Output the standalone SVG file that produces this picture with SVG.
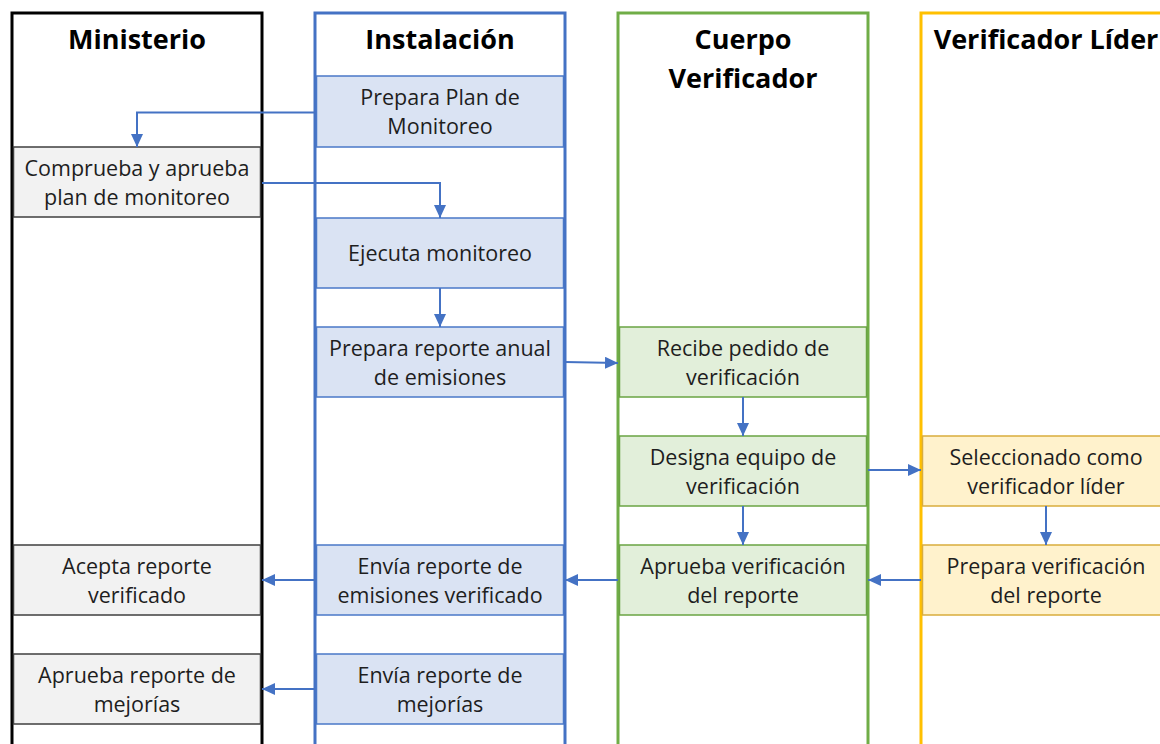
<svg xmlns="http://www.w3.org/2000/svg" width="1160" height="744" viewBox="0 0 1160 744">
<style>
.lane{fill:#fff;stroke-width:3}
.hd{font-family:"Open Sans","Liberation Sans",sans-serif;font-weight:bold;font-size:27px;fill:#000;text-anchor:middle}
.tx{font-family:"Open Sans","Liberation Sans",sans-serif;font-size:21.5px;fill:#1e1e1e;text-anchor:middle}
.gm{fill:#f2f2f2;stroke:#3f3f3f;stroke-width:1.5}
.bl{fill:#dae3f3;stroke:#4a78c8;stroke-width:1.5}
.gr{fill:#e2efda;stroke:#6aa443;stroke-width:1.5}
.og{fill:#fff2cc;stroke:#d9ad3c;stroke-width:1.5}
.cn{fill:none;stroke:#4472c4;stroke-width:2}
</style>
<defs>
<marker id="ah" markerUnits="userSpaceOnUse" markerWidth="13" markerHeight="12" refX="13" refY="6" orient="auto">
<path d="M0,0 L13,6 L0,12 z" fill="#4472c4"/>
</marker>
</defs>
<rect width="1160" height="744" fill="#fff"/>
<g id="lane-ministerio">
<rect class="lane" x="12" y="13" width="250" height="760" stroke="#000"/>
<text class="hd" x="137" y="49">Ministerio</text>
</g>
<g id="lane-instalacion">
<rect class="lane" x="315" y="13" width="250" height="760" stroke="#4472c4"/>
<text class="hd" x="440" y="49">Instalación</text>
</g>
<g id="lane-cuerpo">
<rect class="lane" x="618" y="13" width="250" height="760" stroke="#70ad47"/>
<text class="hd" x="743" y="49">Cuerpo</text>
<text class="hd" x="743" y="88">Verificador</text>
</g>
<g id="lane-lider">
<rect class="lane" x="921" y="13" width="250" height="760" stroke="#ffc000"/>
<text class="hd" x="1046" y="49">Verificador Líder</text>
</g>

<g id="n-comprueba">
<rect class="gm" x="13.5" y="147" width="247" height="70"/>
<text class="tx" x="137" y="176">Comprueba y aprueba</text>
<text class="tx" x="137" y="205">plan de monitoreo</text>
</g>
<g id="n-acepta">
<rect class="gm" x="13.5" y="545" width="247" height="70"/>
<text class="tx" x="137" y="574">Acepta reporte</text>
<text class="tx" x="137" y="603">verificado</text>
</g>
<g id="n-aprueba-mejorias">
<rect class="gm" x="13.5" y="654" width="247" height="70"/>
<text class="tx" x="137" y="683">Aprueba reporte de</text>
<text class="tx" x="137" y="712">mejorías</text>
</g>

<g id="n-prepara-plan">
<rect class="bl" x="316.5" y="76" width="247" height="71"/>
<text class="tx" x="440" y="105">Prepara Plan de</text>
<text class="tx" x="440" y="134">Monitoreo</text>
</g>
<g id="n-ejecuta">
<rect class="bl" x="316.5" y="218" width="247" height="70"/>
<text class="tx" x="440" y="261">Ejecuta monitoreo</text>
</g>
<g id="n-prepara-reporte">
<rect class="bl" x="316.5" y="327" width="247" height="70"/>
<text class="tx" x="440" y="356">Prepara reporte anual</text>
<text class="tx" x="440" y="385">de emisiones</text>
</g>
<g id="n-envia-verificado">
<rect class="bl" x="316.5" y="545" width="247" height="70"/>
<text class="tx" x="440" y="574">Envía reporte de</text>
<text class="tx" x="440" y="603">emisiones verificado</text>
</g>
<g id="n-envia-mejorias">
<rect class="bl" x="316.5" y="654" width="247" height="70"/>
<text class="tx" x="440" y="683">Envía reporte de</text>
<text class="tx" x="440" y="712">mejorías</text>
</g>

<g id="n-recibe">
<rect class="gr" x="619.5" y="327" width="247" height="70"/>
<text class="tx" x="743" y="356">Recibe pedido de</text>
<text class="tx" x="743" y="385">verificación</text>
</g>
<g id="n-designa">
<rect class="gr" x="619.5" y="436" width="247" height="70"/>
<text class="tx" x="743" y="465">Designa equipo de</text>
<text class="tx" x="743" y="494">verificación</text>
</g>
<g id="n-aprueba-verif">
<rect class="gr" x="619.5" y="545" width="247" height="70"/>
<text class="tx" x="743" y="574">Aprueba verificación</text>
<text class="tx" x="743" y="603">del reporte</text>
</g>

<g id="n-seleccionado">
<rect class="og" x="922.5" y="436" width="247" height="70"/>
<text class="tx" x="1046" y="465">Seleccionado como</text>
<text class="tx" x="1046" y="494">verificador líder</text>
</g>
<g id="n-prepara-verif">
<rect class="og" x="922.5" y="545" width="247" height="70"/>
<text class="tx" x="1046" y="574">Prepara verificación</text>
<text class="tx" x="1046" y="603">del reporte</text>
</g>

<g id="connectors">
<path class="cn" marker-end="url(#ah)" d="M315,112.5 H137 V147"/>
<path class="cn" marker-end="url(#ah)" d="M262,183 H440 V218"/>
<path class="cn" marker-end="url(#ah)" d="M440,288 V327"/>
<path class="cn" marker-end="url(#ah)" d="M565,362 L618,363"/>
<path class="cn" marker-end="url(#ah)" d="M743,397 V436"/>
<path class="cn" marker-end="url(#ah)" d="M868,470 H921"/>
<path class="cn" marker-end="url(#ah)" d="M743,506 V545"/>
<path class="cn" marker-end="url(#ah)" d="M1046,506 V545"/>
<path class="cn" marker-end="url(#ah)" d="M921,580 H868"/>
<path class="cn" marker-end="url(#ah)" d="M618,580 H565"/>
<path class="cn" marker-end="url(#ah)" d="M315,580 H262"/>
<path class="cn" marker-end="url(#ah)" d="M315,689 H262"/>
</g>
</svg>
